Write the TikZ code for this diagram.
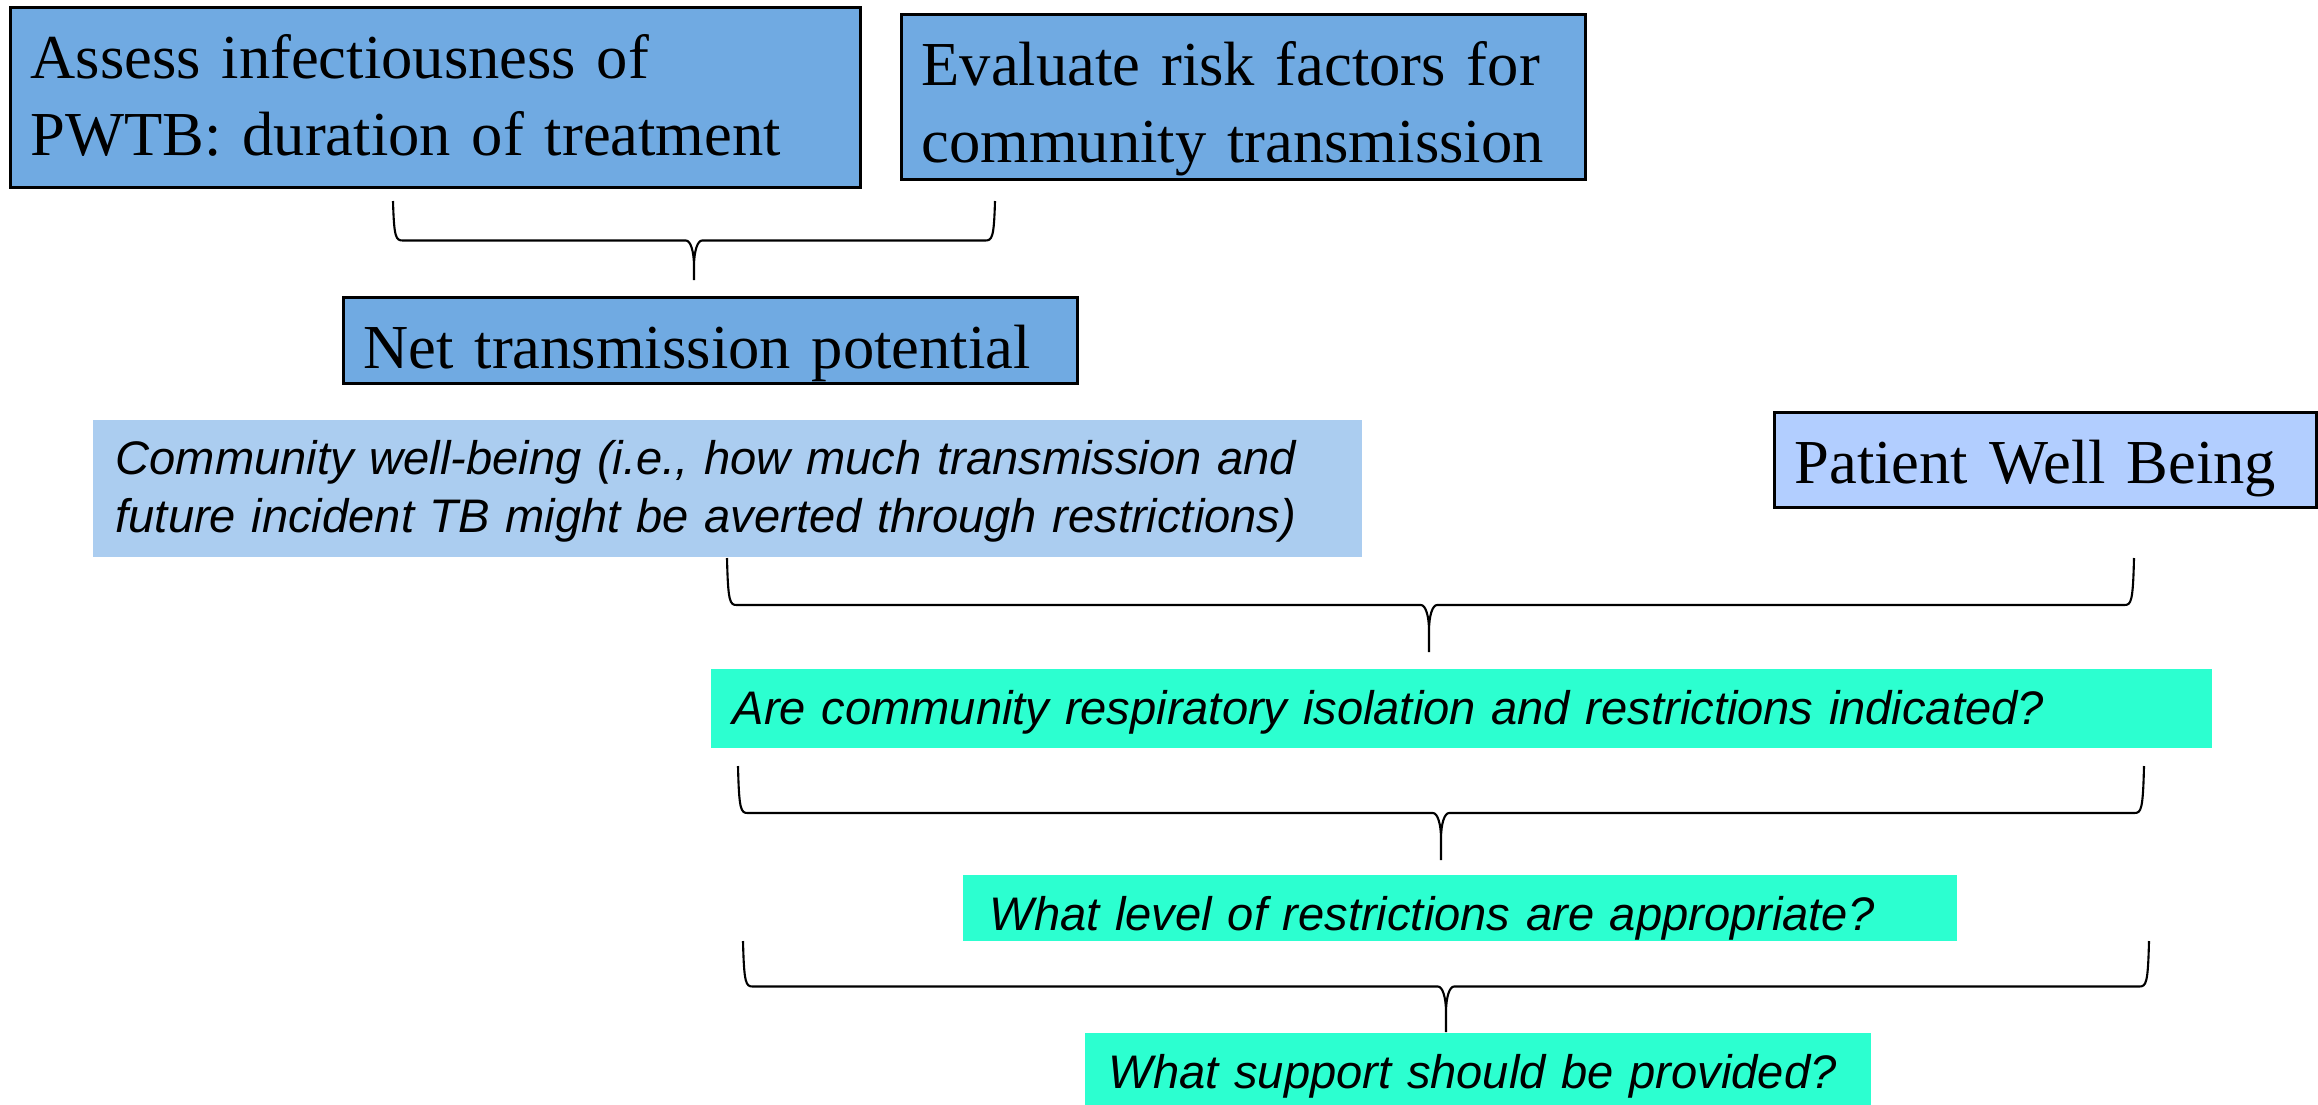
\documentclass[tikz,border=0pt]{standalone}
\usepackage{fontspec}
\setmainfont{Liberation Serif}
\setsansfont{Liberation Sans}
\usepackage{tikz}
\usetikzlibrary{calc}
\definecolor{midblue}{RGB}{112,170,226}
\definecolor{paleblue}{RGB}{171,205,240}
\definecolor{softblue}{RGB}{178,206,255}
\definecolor{aqua}{RGB}{44,255,208}

% curly joint: left arm, right arm, tip
\newcommand{\joinbrace}[3]{%
  \draw[bracket] let \p1=(#1), \p2=(#2), \p3=(#3), \p4=($(#1)!0.5!(#3)$) in
    (\p1) .. controls (\x1+0.3pt,\y4+0.8pt) and (\x1+0.8pt,\y4) .. (\x1+2.8pt,\y4)
    -- (\x3-2.3pt,\y4) .. controls (\x3-1pt,\y4) and (\x3,\y4-3pt) .. (\x3,\y4-7.4pt)
    -- (\p3)
    (\x3,\y4-7.4pt) .. controls (\x3,\y4-3pt) and (\x3+1pt,\y4) .. (\x3+2.3pt,\y4)
    -- (\x2-2.8pt,\y4) .. controls (\x2-0.8pt,\y4) and (\x2-0.3pt,\y4+0.8pt) .. (\p2);
}

\begin{document}
\begin{tikzpicture}[x=0.1mm, y=-0.1mm,
  factor/.style={draw, line width=0.3mm, rectangle, fill=midblue, anchor=north west, align=left,
    inner ysep=0pt, inner xsep=2mm, text height=7.1mm, font=\fontsize{17.8}{21.8}\selectfont},
  wellbox/.style={rectangle, fill=paleblue, anchor=north west, align=left, inner ysep=0pt,
    text height=5.5mm, font=\sffamily\itshape\fontsize{13.4}{16.5}\selectfont},
  question/.style={rectangle, fill=aqua, anchor=north west, align=left, inner ysep=0pt,
    text height=5.6mm, font=\sffamily\itshape\fontsize{13.4}{16.5}\selectfont},
  bracket/.style={line width=0.6pt}]
\useasboundingbox (0,0) rectangle (2318,1104);

\node[factor, text width=81mm, text depth=10.9mm] (assess) at (9,6) {Assess infectiousness of\\PWTB: duration of treatment};
\node[factor, text width=64.4mm, text depth=9.4mm] (risk) at (900,13) {Evaluate risk factors for\\community transmission};
\node[factor, text width=69.4mm, text depth=1.5mm] (net) at (342,296) {Net transmission potential};

\node[wellbox, text width=122.3mm, text depth=8.2mm, inner xsep=2.3mm] (community) at (92,419) {Community well-being (i.e., how much transmission and\\future incident TB might be averted through restrictions)};
\node[factor, fill=softblue, text width=50.2mm, text depth=2.4mm] (patient) at (1773,411) {Patient Well Being};

\node[question, text width=145.7mm, text depth=2.3mm, inner xsep=2.2mm] (indicated) at (710,668) {Are community respiratory isolation and restrictions indicated?};
\node[question, text width=94mm, text depth=1.0mm, inner xsep=2.7mm] (level) at (962,874) {What level of restrictions are appropriate?};
\node[question, text width=73.8mm, text depth=1.6mm, inner xsep=2.4mm] (support) at (1084,1032) {What support should be provided?};

% brace ends and tips
\coordinate (b1l) at (393,201);
\coordinate (b1r) at (995,201);
\coordinate (b1t) at (694,280);
\coordinate (b2l) at (727,558);
\coordinate (b2r) at (2134,558);
\coordinate (b2t) at (1429,652);
\coordinate (b3l) at (738,766);
\coordinate (b3r) at (2144,766);
\coordinate (b3t) at (1441,860);
\coordinate (b4l) at (743,941);
\coordinate (b4r) at (2149,941);
\coordinate (b4t) at (1446,1032);

\joinbrace{b1l}{b1r}{b1t}
\joinbrace{b2l}{b2r}{b2t}
\joinbrace{b3l}{b3r}{b3t}
\joinbrace{b4l}{b4r}{b4t}
\end{tikzpicture}
\end{document}
